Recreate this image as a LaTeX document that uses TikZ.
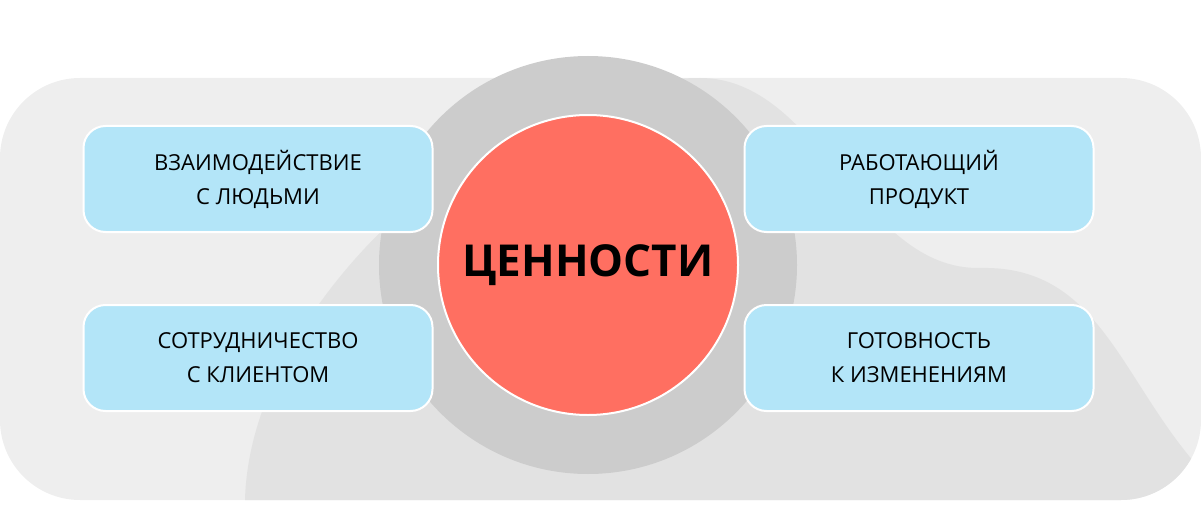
\documentclass[tikz,border=0pt]{standalone}
\usepackage{fontspec}
\setmainfont{Open Sans}
\definecolor{bgcard}{HTML}{EEEEEE}
\definecolor{bgblob}{HTML}{E2E2E2}
\definecolor{ringgray}{HTML}{CCCCCC}
\definecolor{corered}{HTML}{FF6F61}
\definecolor{boxblue}{HTML}{B3E5F8}
\tikzset{valuebox/.style={draw=white, line width=2pt, fill=boxblue, rounded corners=22pt,
    minimum width=349pt, minimum height=106pt, align=center, font=\fontsize{22}{34}\selectfont}}
\begin{document}
\begin{tikzpicture}[x=1pt,y=-1pt]
        \useasboundingbox (0,0) rectangle (1201,516);
        % Background card
        \fill[bgcard, rounded corners=80pt] (0,78) rectangle (1201,500);
        \begin{scope}
            \clip[rounded corners=80pt] (0,78) rectangle (1201,500);
            \fill[bgblob] (245,500) .. controls (250,300) and (500,78) .. (700,78)
                .. controls (820,78) and (860,270) .. (980,268)
                .. controls (1100,265) and (1120,380) .. (1201,470) -- (1201,500) -- cycle;
        \end{scope}
        % Central circles
        \node[circle, fill=ringgray, minimum size=418pt] (ring) at (588,265) {};
        \node[circle, fill=corered, draw=white, line width=2pt, minimum size=300pt,
            font=\fontsize{44}{44}\selectfont\bfseries] (core) at (588,265) {ЦЕННОСТИ};
        % Value boxes
        \node[valuebox] (people) at (258,179) {ВЗАИМОДЕЙСТВИЕ\\С ЛЮДЬМИ};
        \node[valuebox] (client) at (258,358) {СОТРУДНИЧЕСТВО\\С КЛИЕНТОМ};
        \node[valuebox] (product) at (919,179) {РАБОТАЮЩИЙ\\ПРОДУКТ};
        \node[valuebox] (change) at (919,358) {ГОТОВНОСТЬ\\К ИЗМЕНЕНИЯМ};
\end{tikzpicture}
\end{document}
